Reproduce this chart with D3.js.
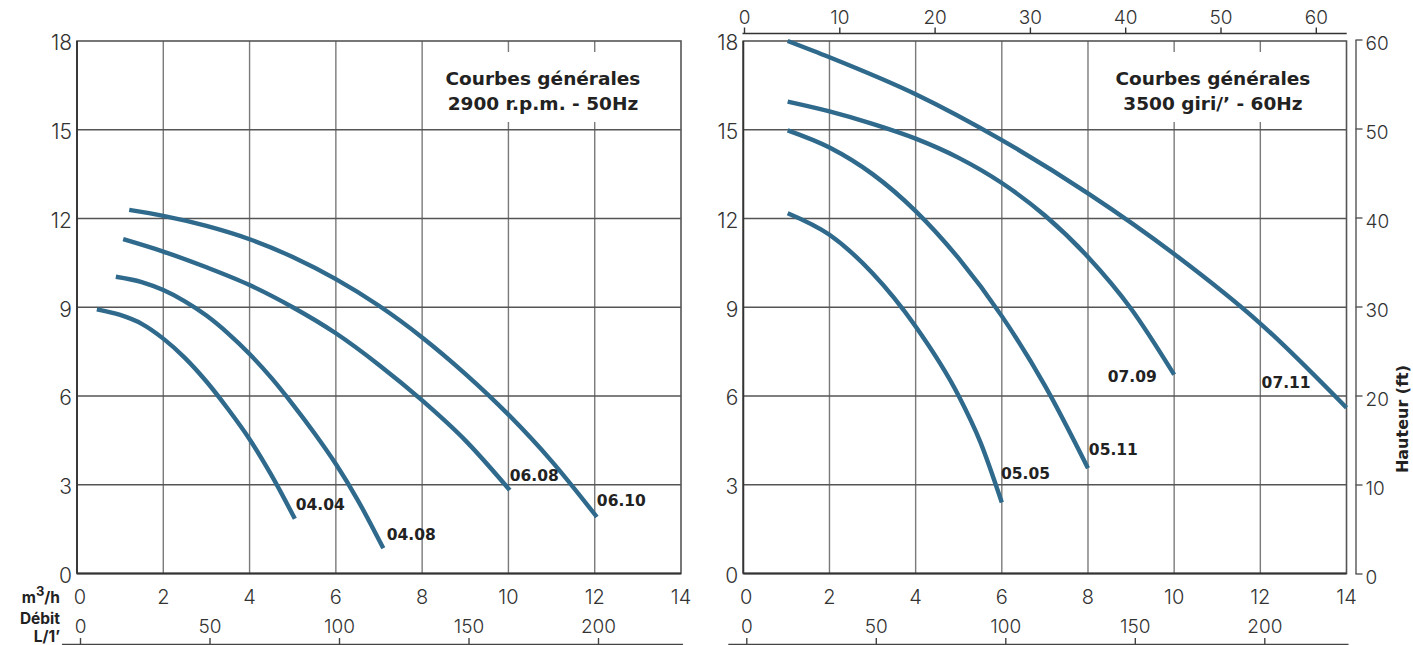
<!DOCTYPE html>
<html><head><meta charset="utf-8">
<script src="https://cdn.jsdelivr.net/npm/d3@7"></script>
<style>
html,body{margin:0;padding:0;background:#fff;}
svg text{font-family:"Inter","Open Sans",sans-serif;}
.tick{font-weight:300;fill:#333;}
.bold{font-weight:700;fill:#222;font-family:"DejaVu Sans","Open Sans",sans-serif;}
</style></head>
<body><svg id="c" width="1413" height="645"></svg>
<script>
// ---- data ----
const xTicksM3h = [0,2,4,6,8,10,12,14];
const yTicksM = [0,3,6,9,12,15,18];
const xTicksLmin = [0,50,100,150,200];
const xTicksGpm = [0,10,20,30,40,50,60];
const yTicksFt = [0,10,20,30,40,50,60];

const leftTitle = ["Courbes générales","2900 r.p.m. - 50Hz"];
const rightTitle = ["Courbes générales","3500 giri/’ - 60Hz"];

// left panel curves (m3/h, m)
const c0404 = [[0.46,8.93],[1.0,8.74],[1.5,8.44],[2.0,7.94],[2.5,7.29],[3.0,6.49],[3.5,5.56],[4.0,4.54],[4.5,3.34],[5.05,1.85]];
const c0408 = [[0.9,10.03],[1.5,9.85],[2.0,9.58],[2.5,9.2],[3.0,8.72],[3.5,8.12],[4.0,7.42],[4.5,6.62],[5.0,5.72],[5.5,4.75],[6.0,3.7],[6.5,2.5],[7.1,0.85]];
const c0608 = [[1.07,11.30],[2.0,10.88],[3.0,10.35],[4.0,9.75],[5.0,9.0],[6.0,8.12],[7.0,7.05],[8.0,5.85],[9.0,4.5],[10.03,2.82]];
const c0610 = [[1.21,12.29],[2.0,12.09],[3.0,11.75],[4.0,11.3],[5.0,10.7],[6.0,9.95],[7.0,9.05],[8.0,7.98],[9.0,6.75],[10.0,5.37],[11.0,3.8],[12.05,1.91]];
// right panel curves
const c0505 = [[1.03,12.18],[2.0,11.45],[3.0,10.15],[4.0,8.35],[5.0,6.0],[5.5,4.45],[6.0,2.4]];
const c0511 = [[1.03,14.98],[2.0,14.4],[3.0,13.5],[4.0,12.25],[5.0,10.65],[6.0,8.7],[7.0,6.35],[8.0,3.56]];
const c0709 = [[1.03,15.95],[2.0,15.62],[3.0,15.2],[4.0,14.7],[5.0,14.05],[6.0,13.2],[7.0,12.1],[8.0,10.7],[9.0,8.95],[10.0,6.72]];
const c0711 = [[1.03,18.0],[2.0,17.45],[4.0,16.2],[6.0,14.65],[8.0,12.85],[10.0,10.8],[12.0,8.45],[14.0,5.6]];

const leftCurves = [c0404,c0408,c0608,c0610];
const rightCurves = [c0505,c0511,c0709,c0711];
const leftLabels = [["04.04",5.07,2.15],["04.08",7.18,1.13],["06.08",10.03,3.13],["06.10",12.05,2.28]];
const rightLabels = [["05.05",5.98,3.19],["05.11",8.02,4.0],["07.09",8.46,6.47],["07.11",12.03,6.27]];

// ---- drawing ----
const svg = d3.select("#c");
const blue = "#2f6a8d";
const yS = d3.scaleLinear().domain([0,18]).range([573.5,41]);

function panel(x0,x1,curves,labels,title,lx){
  const xS = d3.scaleLinear().domain([0,14]).range([x0,x1]);
  const g = svg.append("g");
  // grid
  g.selectAll(".vg").data(xTicksM3h.slice(1,-1)).join("line")
    .attr("x1",d=>xS(d)).attr("x2",d=>xS(d)).attr("y1",yS(0)).attr("y2",yS(18))
    .attr("stroke","#7a7a7a").attr("stroke-width",1.4);
  g.selectAll(".hg").data(yTicksM.slice(1,-1)).join("line")
    .attr("y1",d=>yS(d)).attr("y2",d=>yS(d)).attr("x1",xS(0)).attr("x2",xS(14))
    .attr("stroke","#555").attr("stroke-width",1.4);
  // title box
  const tx = xS(lx);
  g.append("rect").attr("x",tx-112).attr("y",52).attr("width",230).attr("height",70).attr("fill","#fff");
  g.selectAll(".tt").data(title).join("text").attr("class","bold")
    .attr("x",tx).attr("y",(d,i)=>yS(18)+44+i*25).attr("text-anchor","middle")
    .attr("font-size",18.5).text(d=>d);
  // border
  g.append("rect").attr("x",xS(0)).attr("y",yS(18)).attr("width",xS(14)-xS(0)).attr("height",yS(0)-yS(18))
    .attr("fill","none").attr("stroke","#555").attr("stroke-width",1.6);
  g.append("line").attr("x1",xS(0)).attr("x2",xS(0)).attr("y1",yS(0)).attr("y2",yS(18)).attr("stroke","#333").attr("stroke-width",1.8);
  g.append("line").attr("x1",xS(0)).attr("x2",xS(14)).attr("y1",yS(0)).attr("y2",yS(0)).attr("stroke","#333").attr("stroke-width",1.8);
  // y ticks
  g.selectAll(".yt").data(yTicksM).join("text").attr("class","tick")
    .attr("x",xS(0)-5).attr("y",d=>yS(d)+2).attr("dy","0.35em").attr("text-anchor","end")
    .attr("font-size",21).text(d=>d);
  // x ticks m3/h
  g.selectAll(".xt").data(xTicksM3h).join("text").attr("class","tick")
    .attr("x",d=>xS(d)+(d===0?3:0)).attr("y",597).attr("dy","0.35em").attr("text-anchor","middle")
    .attr("font-size",20).text(d=>d);
  // L/min axis
  const lS = d3.scaleLinear().domain([0,50]).range([x0+3,x0+3+129.5]);
  const la = g.append("g").attr("transform","translate(0,644)")
    .call(d3.axisTop(lS).tickValues(xTicksLmin).tickSize(6).tickPadding(5).tickSizeOuter(0));
  la.select(".domain").attr("d",`M${x0-15},0.5H${x1+2}`).attr("stroke","#444").attr("stroke-width",1.4);
  la.selectAll(".tick line").attr("stroke","#444").attr("stroke-width",1.4);
  la.selectAll(".tick text").attr("font-size",19).attr("font-weight",300).attr("fill","#333")
    .attr("font-family","Inter, sans-serif");
  // curves
  const line = d3.line().x(d=>xS(d[0])).y(d=>yS(d[1])).curve(d3.curveMonotoneX);
  g.selectAll(".cv").data(curves).join("path").attr("d",line)
    .attr("fill","none").attr("stroke",blue).attr("stroke-width",4.4);
  g.selectAll(".cl").data(labels).join("text").attr("class","bold")
    .attr("x",d=>xS(d[1])).attr("y",d=>yS(d[2])).attr("font-size",15.5).text(d=>d[0]);
  return xS;
}

panel(77,681,leftCurves,leftLabels,leftTitle,10.8);
const xR = panel(743.3,1346.5,rightCurves,rightLabels,rightTitle,10.9);

// left axis annotations
const ann = svg.append("g").attr("class","bold").attr("text-anchor","end").attr("font-size",15.5);
const t1 = ann.append("text").attr("x",60).attr("y",603);
t1.append("tspan").text("m");
t1.append("tspan").attr("dy",-7).attr("font-size",13).text("3");
t1.append("tspan").attr("dy",7).text("/h");
ann.append("text").attr("x",60).attr("y",624).text("Débit");
ann.append("text").attr("x",60).attr("y",642).text("L/1’");

// top GPM axis (right panel)
const gS = d3.scaleLinear().domain([0,10]).range([744,839.3]);
const ga = svg.append("g").attr("transform","translate(0,33.5)")
  .call(d3.axisTop(gS).tickValues(xTicksGpm).tickSize(6).tickPadding(4).tickSizeOuter(0));
ga.select(".domain").attr("d","M742.5,0H1346.7").attr("stroke","#333").attr("stroke-width",1.6);
ga.selectAll(".tick line").attr("stroke","#333").attr("stroke-width",1.4);
ga.selectAll(".tick text").attr("font-size",19).attr("font-weight",300).attr("fill","#333").attr("font-family","Inter, sans-serif");

// right ft axis
const fS = d3.scaleLinear().domain([0,60]).range([573.5,573.5-60*8.9]);
const fa = svg.append("g").attr("transform","translate(1355.5,0)")
  .call(d3.axisRight(fS).tickValues(yTicksFt).tickSize(7).tickPadding(3).tickSizeOuter(0));
fa.select(".domain").attr("stroke","#555").attr("stroke-width",1.4);
fa.selectAll(".tick line").attr("stroke","#555").attr("stroke-width",1.4);
fa.selectAll(".tick text").attr("font-size",19).attr("font-weight",300).attr("fill","#333")
  .attr("font-family","Inter, sans-serif").attr("dy","0.55em");
svg.append("text").attr("class","bold").attr("font-size",16).attr("text-anchor","middle")
  .attr("transform","translate(1408,419) rotate(-90)").text("Hauteur (ft)");
</script></body></html>
